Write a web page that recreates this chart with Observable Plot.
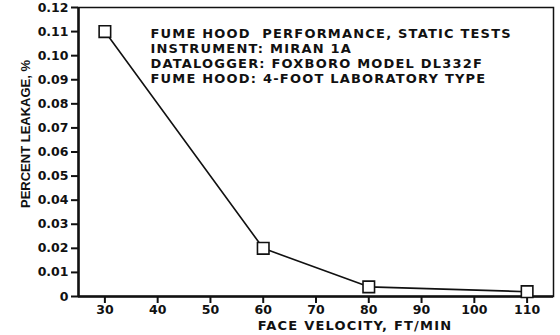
<!DOCTYPE html>
<html><head><meta charset="utf-8">
<script src="https://cdn.jsdelivr.net/npm/d3@7"></script>
<script src="https://cdn.jsdelivr.net/npm/@observablehq/plot@0.6"></script>
<style>
body{margin:0;background:#fff;}
</style>
</head><body>
<div id="chart"></div>
<script>
const velocity = [30, 60, 80, 110];
const leakage = [0.11, 0.02, 0.004, 0.002];
const xTicks = [30, 40, 50, 60, 70, 80, 90, 100, 110];
const yTicks = [0, 0.01, 0.02, 0.03, 0.04, 0.05, 0.06, 0.07, 0.08, 0.09, 0.10, 0.11, 0.12];
const notes = [
  "FUME HOOD  PERFORMANCE, STATIC TESTS",
  "INSTRUMENT: MIRAN 1A",
  "DATALOGGER: FOXBORO MODEL DL332F",
  "FUME HOOD: 4-FOOT LABORATORY TYPE"
];
const xLabel = "FACE VELOCITY, FT/MIN";
const yLabel = "PERCENT LEAKAGE, %";

const data = velocity.map((v, i) => ({v, p: leakage[i]}));
const fmtY = d => d === 0 ? "0" : d3.format(".2f")(d);
const FONT = "DejaVu Sans, sans-serif";

const plot = Plot.plot({
  width: 560, height: 335,
  marginLeft: 78, marginRight: 7, marginTop: 7, marginBottom: 39,
  style: {fontFamily: FONT, fontSize: "12.5px", fontWeight: "bold", color: "#111", background: "#fff"},
  x: {domain: [25, 115], label: null},
  y: {domain: [0, 0.12], label: null},
  marks: [
    Plot.frame({stroke: "#111", strokeWidth: 1.5}),
    Plot.axisX({ticks: xTicks, tickSize: 7, tickPadding: 2, tickFormat: d => String(d), stroke: "#111", strokeWidth: 2, fontSize: 12.5}),
    Plot.axisY({ticks: yTicks, tickSize: 7, tickPadding: 3, tickFormat: fmtY, stroke: "#111", strokeWidth: 2, fontSize: 12.5}),
    Plot.ruleX([25], {stroke: "#111", strokeWidth: 2.5}),
    Plot.ruleY([0], {stroke: "#111", strokeWidth: 2.5}),
    Plot.line(data, {x: "v", y: "p", stroke: "#111", strokeWidth: 1.6}),
    Plot.dot(data, {x: "v", y: "p", symbol: "square", r: 6.5, fill: "white", stroke: "#111", strokeWidth: 1.6}),
    Plot.text([notes.join("\n")], {frameAnchor: "top-left", textAnchor: "start", lineAnchor: "top", dx: 72, dy: 19.5, lineHeight: 15 / 13, fontSize: 13, fontWeight: "bold", fill: "#111"}),
    Plot.text([xLabel], {frameAnchor: "bottom", textAnchor: "middle", dx: 39, dy: 33.5, fontSize: 13, fontWeight: "bold", fill: "#111"}),
    Plot.text([yLabel], {frameAnchor: "left", textAnchor: "middle", dx: -53, dy: -18, rotate: -90, fontSize: 13, fontWeight: "bold", fontFamily: "Liberation Sans, Arial, sans-serif", fill: "#111"})
  ]
});
const textGroups = d3.select(plot).selectAll('g[aria-label="text"]').nodes();
d3.select(textGroups[0]).attr("letter-spacing", "1.2px");
d3.select(textGroups[1]).attr("letter-spacing", "1.2px");
document.getElementById("chart").appendChild(plot);
</script>
</body></html>
